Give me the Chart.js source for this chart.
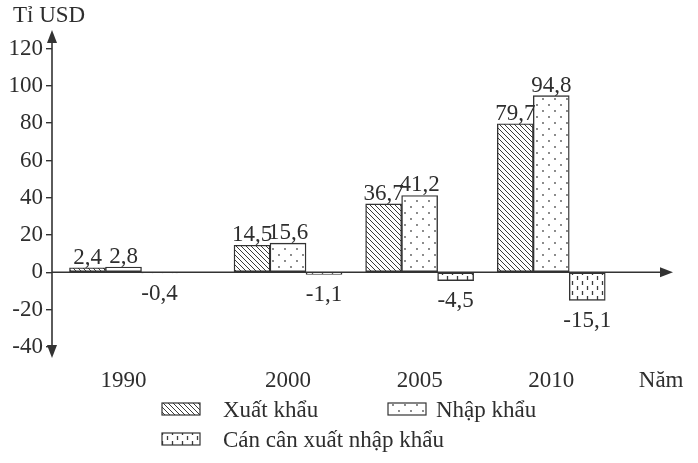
<!DOCTYPE html>
<html><head><meta charset="utf-8">
<script src="https://cdn.jsdelivr.net/npm/chart.js@4"></script>
<style>html,body{margin:0;padding:0;background:#fff;}canvas{display:block}</style>
</head><body>
<canvas id="c" width="698" height="463"></canvas>
<script>
// ---- data ----
const years = ['1990', '2000', '2005', '2010'];
const exportVals = [2.4, 14.5, 36.7, 79.7];
const importVals = [2.8, 15.6, 41.2, 94.8];
const balanceVals = [-0.4, -1.1, -4.5, -15.1];
const seriesNames = ['Xuất khẩu', 'Nhập khẩu', 'Cán cân xuất nhập khẩu'];
const yTickValues = [-40, -20, 0, 20, 40, 60, 80, 100, 120];
const yTitle = 'Tỉ USD';
const xTitle = 'Năm';

// ---- layout (not data) ----
const groupSlots = [0, 5, 9, 13];
const xTitleSlot = 16.34;
const INK = '#333333';
const FONT = '"Liberation Serif", "Times New Roman", serif';

function makePattern(kind) {
  const c = document.createElement('canvas');
  const g = c.getContext('2d');
  if (kind === 'hatch') {
    c.width = 5; c.height = 5;
    g.fillStyle = '#fff'; g.fillRect(0, 0, 5, 5);
    g.strokeStyle = '#3a3a3a'; g.lineWidth = 1;
    g.beginPath();
    g.moveTo(-1, -1); g.lineTo(6, 6);
    g.moveTo(-1, 4); g.lineTo(1, 6);
    g.moveTo(4, -1); g.lineTo(6, 1);
    g.stroke();
  } else if (kind === 'dots') {
    c.width = 12; c.height = 12;
    g.fillStyle = '#fff'; g.fillRect(0, 0, 12, 12);
    g.fillStyle = '#555';
    g.beginPath(); g.arc(3, 3, 0.9, 0, Math.PI * 2); g.fill();
    g.beginPath(); g.arc(9, 9, 0.9, 0, Math.PI * 2); g.fill();
  } else {
    c.width = 10; c.height = 10;
    g.fillStyle = '#fff'; g.fillRect(0, 0, 10, 10);
    g.strokeStyle = '#3a3a3a'; g.lineWidth = 1.3;
    g.beginPath();
    g.moveTo(2.5, 1); g.lineTo(2.5, 5);
    g.moveTo(7.5, 6); g.lineTo(7.5, 10);
    g.stroke();
  }
  return g.createPattern(c, 'repeat');
}

const patterns = [makePattern('hatch'), makePattern('dots'), makePattern('dash')];
const seriesVals = [exportVals, importVals, balanceVals];

const datasets = seriesVals.map((vals, s) => ({
  label: seriesNames[s],
  data: vals.map((v, i) => ({ x: groupSlots[i], y: v })),
  backgroundColor: patterns[s],
  borderColor: INK,
  borderWidth: 1.4,
  borderSkipped: false,
  barThickness: 36
}));

const fmt = v => String(v).replace('.', ',');

const decor = {
  id: 'decor',
  afterDatasetsDraw(chart) {
    const ctx = chart.ctx;
    const ca = chart.chartArea;
    const ys = chart.scales.y;
    const x0 = ca.left;
    const y0 = ys.getPixelForValue(0);
    ctx.save();
    ctx.strokeStyle = INK; ctx.fillStyle = INK; ctx.lineWidth = 1.6;
    // y axis
    ctx.beginPath(); ctx.moveTo(x0, ca.top + 10); ctx.lineTo(x0, ca.bottom - 10); ctx.stroke();
    ctx.beginPath(); ctx.moveTo(x0, ca.top); ctx.lineTo(x0 - 5, ca.top + 13); ctx.lineTo(x0 + 5, ca.top + 13); ctx.closePath(); ctx.fill();
    ctx.beginPath(); ctx.moveTo(x0, ca.bottom); ctx.lineTo(x0 - 5, ca.bottom - 13); ctx.lineTo(x0 + 5, ca.bottom - 13); ctx.closePath(); ctx.fill();
    // x axis at zero
    ctx.beginPath(); ctx.moveTo(x0, y0); ctx.lineTo(ca.right - 10, y0); ctx.stroke();
    ctx.beginPath(); ctx.moveTo(ca.right, y0); ctx.lineTo(ca.right - 13, y0 - 5); ctx.lineTo(ca.right - 13, y0 + 5); ctx.closePath(); ctx.fill();

    // value labels
    ctx.font = '23px ' + FONT;
    ctx.fillStyle = '#2e2e2e';
    ctx.textAlign = 'center';
    chart.data.datasets.forEach((ds, di) => {
      const meta = chart.getDatasetMeta(di);
      meta.data.forEach((el, i) => {
        const v = seriesVals[di][i];
        if (v >= 0) {
          ctx.textBaseline = 'alphabetic';
          ctx.fillText(fmt(v), el.x, el.y - 4);
        } else {
          ctx.textBaseline = 'top';
          ctx.fillText(fmt(v), el.x, el.y + 9);
        }
      });
    });

    // y title
    ctx.textAlign = 'left'; ctx.textBaseline = 'middle';
    ctx.font = '23px ' + FONT;
    ctx.fillText(yTitle, 13, 16);

    // legend
    const items = [
      { bx: 162, by: 403, tx: 223 },
      { bx: 388, by: 403, tx: 436 },
      { bx: 162, by: 433, tx: 223 }
    ];
    items.forEach((it, k) => {
      ctx.fillStyle = patterns[k];
      ctx.fillRect(it.bx, it.by, 38, 12);
      ctx.strokeStyle = INK; ctx.lineWidth = 1.2;
      ctx.strokeRect(it.bx, it.by, 38, 12);
      ctx.fillStyle = '#2e2e2e';
      ctx.font = '23px ' + FONT;
      ctx.textBaseline = 'middle';
      ctx.fillText(seriesNames[k], it.tx, it.by + 8);
    });
    ctx.restore();
  }
};

const xTickText = [...years, xTitle];

new Chart(document.getElementById('c'), {
  type: 'bar',
  data: { datasets },
  options: {
    responsive: false,
    animation: false,
    layout: { padding: { top: 30, right: 25, left: 0, bottom: 0 } },
    plugins: { legend: { display: false }, tooltip: { enabled: false } },
    scales: {
      x: {
        type: 'linear',
        offset: false,
        min: -2.173,
        max: 16.70,
        grid: { display: false, offset: false },
        border: { display: false },
        afterBuildTicks: s => { s.ticks = [...groupSlots, xTitleSlot].map(v => ({ value: v })); },
        afterFit: s => { s.height = 105; },
        ticks: {
          autoSkip: false, maxRotation: 0, padding: 1,
          color: '#2e2e2e',
          font: { family: FONT, size: 23 },
          callback: (v, i) => xTickText[i]
        }
      },
      y: {
        min: -46,
        max: 130,
        afterBuildTicks: s => { s.ticks = yTickValues.map(v => ({ value: v })); },
        afterFit: s => { s.width = 52; },
        grid: { display: true, drawOnChartArea: false, drawTicks: true, tickLength: 6, color: INK, lineWidth: 1.4 },
        border: { display: false },
        ticks: {
          padding: 3,
          color: '#2e2e2e',
          font: { family: FONT, size: 23 },
          callback: v => String(v)
        }
      }
    }
  },
  plugins: [decor]
});
</script>
</body></html>
